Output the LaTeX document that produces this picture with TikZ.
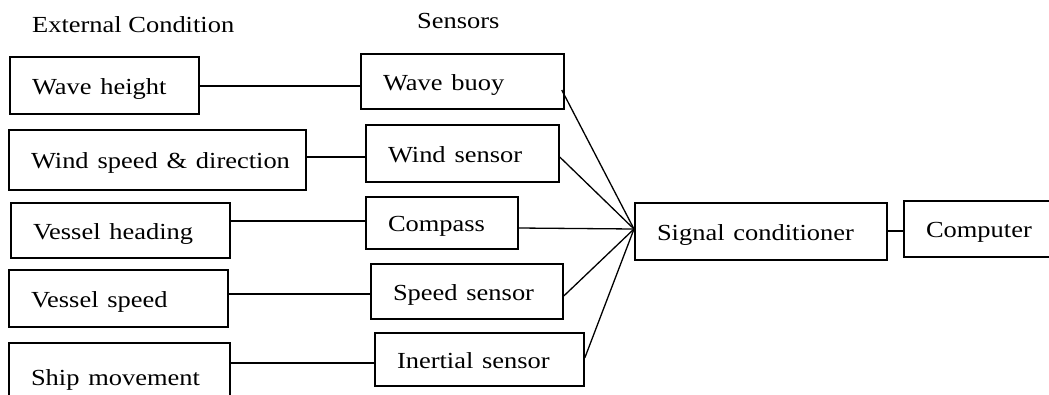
\documentclass[tikz,border=0pt]{standalone}
\usepackage{fontspec}
\setmainfont{Liberation Serif}
\usepackage{graphicx}
\newcommand\stx[1]{\scalebox{1.15}[1]{#1}}
\begin{document}
\begin{tikzpicture}[x=1pt,y=-1pt,
  bx/.style={draw, line width=1.5pt, align=left, inner xsep=22pt, inner ysep=0pt,
    text height=19pt, text depth=2pt, font=\fontsize{23}{27}\selectfont},
  hd/.style={anchor=base west, inner sep=0pt, font=\fontsize{23}{27}\selectfont},
  ln/.style={line width=1.3pt}]
\useasboundingbox (0,0) rectangle (1049,394);
\clip (0,0) rectangle (1049,394);
% headers
\node[hd] (h1) at (32,32) {\stx{External Condition}};
\node[hd] (h2) at (417,28) {\stx{Sensors}};
% external conditions
\node[bx, text width=145pt, minimum width=189pt, minimum height=57pt] (wh) at (104.5,85.5) {\stx{Wave height}};
\node[bx, text width=253pt, minimum width=297pt, minimum height=60pt] (ws) at (157.5,160) {\stx{Wind speed \& direction}};
\node[bx, text width=175pt, minimum width=219pt, minimum height=55pt] (vh) at (120.5,230.5) {\stx{Vessel heading}};
\node[bx, text width=175pt, minimum width=219pt, minimum height=57pt] (vs) at (118.5,298.5) {\stx{Vessel speed}};
\node[bx, text width=177pt, minimum width=221pt, minimum height=67pt] (sm) at (119.5,376.5) {\stx{Ship movement}};
% sensors
\node[bx, text width=159pt, minimum width=203pt, minimum height=55pt] (wb) at (462.5,81.5) {\stx{Wave buoy}};
\node[bx, text width=149pt, minimum width=193pt, minimum height=57pt] (wsn) at (462.5,153.5) {\stx{Wind sensor}};
\node[bx, text width=108pt, minimum width=152pt, minimum height=52pt] (cp) at (442,223) {\stx{Compass}};
\node[bx, text width=148pt, minimum width=192pt, minimum height=55pt] (ss) at (467,291.5) {\stx{Speed sensor}};
\node[bx, text width=165pt, minimum width=209pt, minimum height=53pt] (is) at (479.5,359.5) {\stx{Inertial sensor}};
% processing
\node[bx, text width=208pt, minimum width=252pt, minimum height=57pt] (sc) at (761,231.5) {\stx{Signal conditioner}};
\node[bx, text width=126pt, minimum width=170pt, minimum height=56pt] (cm) at (989,229) {\stx{Computer}};
% connectors condition -> sensor
\draw[ln] (wh.east |- 0,86) -- (wb.west |- 0,86);
\draw[ln] (ws.east |- 0,157) -- (wsn.west |- 0,157);
\draw[ln] (vh.east |- 0,221) -- (cp.west |- 0,221);
\draw[ln] (vs.east |- 0,294) -- (ss.west |- 0,294);
\draw[ln] (sm.east |- 0,363) -- (is.west |- 0,363);
% converging
\coordinate (P) at (634,229);
\draw[ln] ([xshift=-3pt]wb.east |- 0,90) -- (P);
\draw[ln] (wsn.east |- 0,157) -- (P);
\draw[ln] (cp.east |- 0,228) -- (P);
\draw[ln] (ss.east |- 0,296) -- (P);
\draw[ln] (is.east |- 0,358) -- (P);
\draw[ln] (sc.east |- 0,231) -- (cm.west |- 0,231);
\end{tikzpicture}
\end{document}
